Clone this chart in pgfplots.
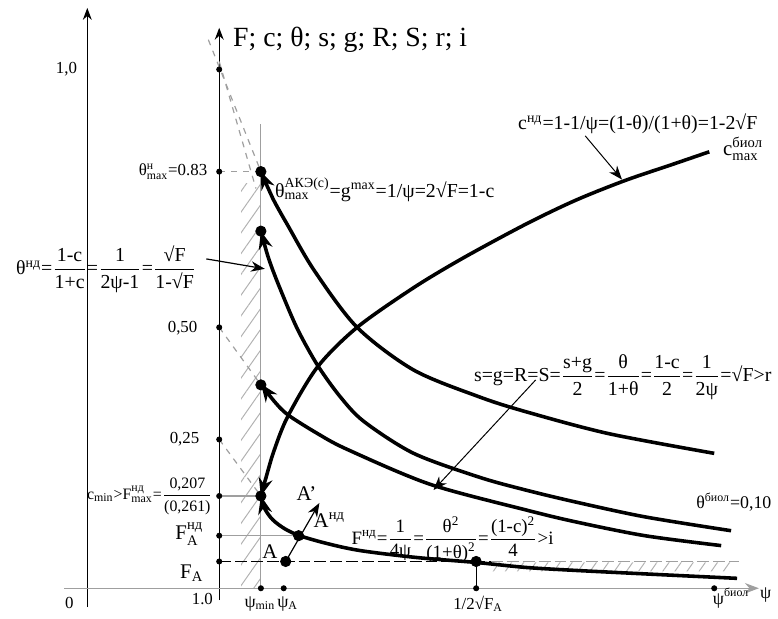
\documentclass[border=0pt]{standalone}
\usepackage{amsmath}
\usepackage{fontspec}
\setmainfont{Liberation Serif}
\usepackage{pgfplots}
\pgfplotsset{compat=1.18}
\usetikzlibrary{arrows.meta, patterns.meta}

\newcommand{\fs}[1]{\fontsize{#1}{#1}\selectfont}
\newcommand{\up}[1]{$^{\text{#1}}$}
\newcommand{\dn}[1]{$_{\text{#1}}$}
\newcommand{\ud}[2]{$^{\text{#1}}_{\text{#2}}$}
\newcommand{\fr}[2]{$\dfrac{\text{#1}}{\text{#2}}$}

\begin{document}
\begin{tikzpicture}
\begin{axis}[
    scale only axis, width=389pt, height=310.5pt,
    xmin=0, xmax=778, ymin=0, ymax=621, y dir=reverse,
    hide axis, clip=false,
    curve/.style={black, line width=1.8pt, smooth, tension=0.5},
    thin gray/.style={gray!75, line width=0.6pt},
  ]
  \path (0,0) rectangle (778,621);

  % hatched strips
  \addplot[draw=none, pattern={Lines[angle=55,distance=6pt,line width=0.5pt]}, pattern color=gray!60]
    coordinates {(243,185) (263,185) (263,593) (243,593)} -- cycle;
  \addplot[draw=none, pattern={Lines[angle=55,distance=5pt,line width=0.5pt]}, pattern color=gray!60]
    coordinates {(495,567) (745,567) (735,576) (495,576)} -- cycle;

  % axes
  \addplot[black, line width=0.6pt, -{Stealth[length=6pt]}] coordinates {(88,612) (88,8)};
  \addplot[black, line width=0.6pt, -{Stealth[length=6pt]}] coordinates {(221,605) (221,28)};
  \addplot[thin gray, -{Stealth[length=7pt]}] coordinates {(65,593) (765,593)};
  \addplot[thin gray] coordinates {(263,593) (263,125)};

  % guide lines
  \addplot[thin gray, dashed] coordinates {(210,40) (263,173)};
  \addplot[thin gray, dashed] coordinates {(221,62) (258,190)};
  \addplot[thin gray, dashed] coordinates {(221,173) (263,173)};
  \addplot[thin gray, dashed] coordinates {(221,330) (263,388)};
  \addplot[thin gray, dashed] coordinates {(221,443) (263,500)};
  \addplot[thin gray] coordinates {(221,500) (263,500)};
  \addplot[thin gray] coordinates {(221,540) (301,540)};
  \addplot[black, line width=0.6pt, dash pattern=on 6pt off 2pt] coordinates {(221,566) (495,566)};
  \addplot[thin gray, dash pattern=on 6pt off 2pt] coordinates {(495,566) (745,566)};
  \addplot[black, line width=0.5pt] coordinates {(480,567) (480,593)};

  % curves
  \addplot[curve, {Stealth[length=9pt,width=7pt]}-] coordinates {
    (263,500) (268,482) (276,455) (290,420) (320,370) (360,330) (417,290)
    (467,260) (530,226) (580,202) (630,182) (680,165) (715,153)};
  \addplot[curve, {Stealth[length=9pt,width=7pt]}-] coordinates {
    (263,173) (275,200) (290,227) (317,273) (360,330) (417,373) (483,400)
    (530,415) (613,437) (720,457)};
  \addplot[curve, {Stealth[length=9pt,width=7pt]}-] coordinates {
    (263,233) (272,264) (284,295) (300,332) (320,368) (343,400) (367,425)
    (417,457) (483,481) (530,494) (580,506) (650,521) (737,535)};
  \addplot[curve, {Stealth[length=9pt,width=7pt]}-] coordinates {
    (263,387) (276,404) (290,418) (320,437) (350,453) (433,488) (530,514)
    (580,526) (650,540) (727,550)};
  \addplot[curve, {Stealth[length=9pt,width=7pt]}-] coordinates {
    (263,500) (267,513) (275,524) (287,533) (302,540) (330,548) (363,555)
    (420,562) (480,567) (530,572) (580,575) (660,579) (743,583)};

  % points
  \addplot[only marks, mark=*, mark size=1.3pt] coordinates {
    (221,70) (221,173) (221,330) (221,443) (221,500) (221,540) (221,566)
    (263,593) (286,593) (480,593) (720,593)};
  \addplot[only marks, mark=*, mark size=2.6pt] coordinates {
    (263,173) (263,233) (263,388) (263,500) (288,566) (301,540) (480,566)};

  % arrows to labels
  \addplot[black, line width=0.6pt, -{Stealth[length=7pt]}] coordinates {(288,566) (322,507)};
  \addplot[black, line width=0.6pt, -{Stealth[length=7pt]}] coordinates {(208,261) (267,271)};
  \addplot[black, line width=0.5pt, -{Stealth[length=7pt]}] coordinates {(590,137) (627,181)};
  \addplot[black, line width=0.5pt, -{Stealth[length=7pt]}] coordinates {(540,383) (437,494)};

  % texts
  \node[anchor=west, font=\fs{14}] at (228,40) {F; c; θ; s; g; R; S; r; i};
  \node[font=\fs{8.5}] at (67,70) {1,0};
  \node[font=\fs{8.5}] at (70,608) {0};
  \node[font=\fs{8.5}] at (204,604) {1.0};
  \node[anchor=east, font=\fs{8.5}] at (216,173) {θ\ud{н}{max}=0.83};
  \node[anchor=east, font=\fs{8.5}] at (206,331) {0,50};
  \node[anchor=east, font=\fs{8.5}] at (208,443) {0,25};
  \node[anchor=east, font=\fs{8}, inner sep=1pt] at (217,500)
    {c\dn{min}>F\ud{нд}{max}=\fr{0,207}{(0,261)}};
  \node[anchor=east, font=\fs{10.5}] at (212,538) {F\ud{нд}{A}};
  \node[anchor=east, font=\fs{10.5}] at (212,578) {F\dn{A}};
  \node[font=\fs{10}, inner sep=0pt] at (107,271)
    {θ\up{нд}=\fr{1-c}{1+c}=\fr{1}{2ψ-1}=\fr{√F}{1-√F}};
  \node[anchor=west, font=\fs{10}, inner sep=0pt] at (277,191)
    {θ\ud{АКЭ(c)}{max}=g\up{max}=1/ψ=2√F=1-c};
  \node[anchor=west, font=\fs{10}, inner sep=0pt] at (522,125)
    {c\up{нд}=1-1/ψ=(1-θ)/(1+θ)=1-2√F};
  \node[anchor=west, font=\fs{10.5}] at (722,150) {c\ud{биол}{max}};
  \node[anchor=east, font=\fs{10}, inner sep=0pt] at (778,380)
    {s=g=R=S=\fr{s+g}{2}=\fr{θ}{1+θ}=\fr{1-c}{2}=\fr{1}{2ψ}=√F>r};
  \node[anchor=east, font=\fs{9}, inner sep=0pt] at (778,506) {θ\up{биол}=0,10};
  \node[anchor=west, font=\fs{9.5}, inner sep=0pt] at (354,544)
    {F\up{нд}=\fr{1}{4ψ}=\fr{θ\textsuperscript{2}}{(1+θ)\textsuperscript{2}}=\fr{(1-c)\textsuperscript{2}}{4}>i};
  \node[font=\fs{10.5}] at (272,556) {A};
  \node[font=\fs{10.5}] at (309,498) {A'};
  \node[font=\fs{10.5}] at (332,524) {A\up{нд}};
  \node[font=\fs{9}] at (262,609) {ψ\dn{min}};
  \node[font=\fs{9}] at (290,609) {ψ\dn{A}};
  \node[font=\fs{8.5}] at (482,609) {1/2√F\dn{A}};
  \node[font=\fs{9}] at (737,603) {ψ\up{биол}};
  \node[font=\fs{9}] at (772,600) {ψ};
\end{axis}
\end{tikzpicture}
\end{document}
